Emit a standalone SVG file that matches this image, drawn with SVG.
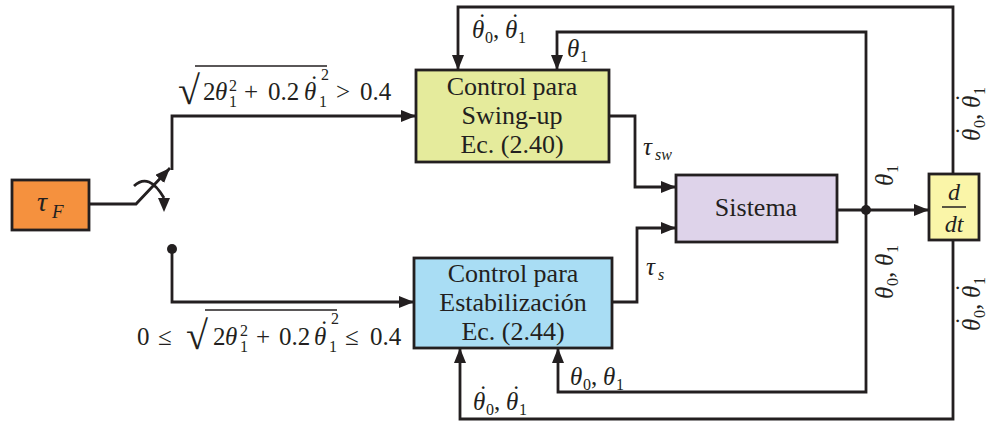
<svg xmlns="http://www.w3.org/2000/svg" width="987" height="421" viewBox="0 0 987 421">
<defs>
<marker id="arr" markerUnits="userSpaceOnUse" viewBox="0 0 15 12" refX="15" refY="6" markerWidth="15" markerHeight="12" orient="auto">
<path d="M0,0 L15,6 L0,12 z" fill="#231F20"/>
</marker>
</defs>
<style>
.box{stroke:#231F20;stroke-width:2.8}
.ln{fill:none;stroke:#231F20;stroke-width:2.8}
text{font-family:'Liberation Serif','DejaVu Serif',serif;fill:#231F20}
.lbl{font-size:26px;text-anchor:middle}
.m{font-size:25px}
.i{font-style:italic}
.s{font-size:16px}
.big{font-size:40px}
</style>
<rect width="987" height="421" fill="#ffffff"/>

<g id="connectors">
<path class="ln" d="M89,204 L136,204 L170,168" marker-end="url(#arr)"/>
<path class="ln" d="M172,170 L172,116 L416,116" marker-end="url(#arr)"/>
<circle cx="172" cy="249" r="5" fill="#231F20"/>
<path class="ln" d="M172,249 L172,302 L414,302" marker-end="url(#arr)"/>
<path class="ln" d="M134,186 Q149,172 164,198"/>
<polygon points="158,198 170,198 164,212" fill="#231F20"/>
<path class="ln" d="M609,116 L635,116 L635,187 L676,187" marker-end="url(#arr)"/>
<path class="ln" d="M612,302 L637,302 L637,228 L676,228" marker-end="url(#arr)"/>
<path class="ln" d="M837,210 L929,210" marker-end="url(#arr)"/>
<circle cx="866" cy="210" r="5" fill="#231F20"/>
<path class="ln" d="M866,210 L866,32 L557,32 L557,70" marker-end="url(#arr)"/>
<path class="ln" d="M953,174 L953,7 L458,7 L458,70" marker-end="url(#arr)"/>
<path class="ln" d="M866,210 L866,392 L558,392 L558,348" marker-end="url(#arr)"/>
<path class="ln" d="M953,240 L953,419 L460,419 L460,348" marker-end="url(#arr)"/>
</g>

<g id="tauF">
<rect class="box" x="12" y="180" width="77" height="50" fill="#F5913E"/>
<text class="m i" x="37" y="211" style="font-size:28px">τ</text>
<text class="s i" x="52" y="218" style="font-size:19px">F</text>
</g>

<g id="swingup">
<rect class="box" x="416" y="70" width="193" height="92" fill="#E5EB9C"/>
<text class="lbl" x="512" y="95">Control para</text>
<text class="lbl" x="512" y="124">Swing-up</text>
<text class="lbl" x="512" y="153">Ec. (2.40)</text>
</g>

<g id="estabilizacion">
<rect class="box" x="414" y="258" width="198" height="90" fill="#A9DDF4"/>
<text class="lbl" x="513" y="282">Control para</text>
<text class="lbl" x="513" y="311">Estabilización</text>
<text class="lbl" x="513" y="340">Ec. (2.44)</text>
</g>

<g id="sistema">
<rect class="box" x="676" y="175" width="161" height="67" fill="#DED3EA"/>
<text class="lbl" x="756" y="216">Sistema</text>
</g>

<g id="ddt">
<rect class="box" x="929" y="174" width="50" height="66" fill="#FAF5A8"/>
<text class="m i" x="954" y="200" text-anchor="middle" style="font-size:24px">d</text>
<line x1="942" y1="207" x2="966" y2="207" stroke="#231F20" stroke-width="1.5"/>
<text class="m i" x="954" y="232" text-anchor="middle" style="font-size:24px">dt</text>
</g>

<g id="labels">
<!-- top condition -->
<text class="big" x="178" y="104">√</text>
<line x1="195" y1="66" x2="327" y2="66" stroke="#231F20" stroke-width="1.5"/>
<text class="m" x="203" y="100">2</text>
<text class="m i" x="215" y="100">θ</text>
<text class="s" x="229" y="91">2</text>
<text class="s" x="229" y="107">1</text>
<text class="m" x="244" y="100">+</text>
<text class="m" x="268" y="100">0.2</text>
<text class="m i" x="304" y="100">θ</text>
<text class="m" x="310" y="93">˙</text>
<text class="s" x="321" y="80">2</text>
<text class="s" x="319" y="107">1</text>
<text class="m" x="336" y="100">&gt;</text>
<text class="m" x="360" y="100">0.4</text>

<!-- bottom condition -->
<text class="m" x="137" y="345">0</text>
<text class="m" x="158" y="345">≤</text>
<text class="big" x="186" y="349">√</text>
<line x1="205" y1="310" x2="337" y2="310" stroke="#231F20" stroke-width="1.5"/>
<text class="m" x="213" y="345">2</text>
<text class="m i" x="225" y="345">θ</text>
<text class="s" x="240" y="336">2</text>
<text class="s" x="240" y="352">1</text>
<text class="m" x="256" y="345">+</text>
<text class="m" x="279" y="345">0.2</text>
<text class="m i" x="314" y="345">θ</text>
<text class="m" x="320" y="338">˙</text>
<text class="s" x="331" y="324">2</text>
<text class="s" x="329" y="352">1</text>
<text class="m" x="345" y="345">≤</text>
<text class="m" x="370" y="345">0.4</text>

<!-- θ̇0, θ̇1 top -->
<g transform="translate(472,38)">
<text class="m i" x="0" y="0">θ</text><text class="m" x="6" y="-7">˙</text><text class="s" x="13" y="5">0</text>
<text class="m" x="21" y="0">,</text>
<text class="m i" x="33" y="0">θ</text><text class="m" x="39" y="-7">˙</text><text class="s" x="46" y="5">1</text>
</g>
<g transform="translate(567,57)">
<text class="m i" x="0" y="0">θ</text><text class="s" x="13" y="5">1</text>
</g>
<g transform="translate(643,155)">
<text class="m i" x="0" y="0">τ</text><text class="s i" x="12" y="5">sw</text>
</g>
<g transform="translate(646,275)">
<text class="m i" x="0" y="0">τ</text><text class="s i" x="12" y="5">s</text>
</g>
<g transform="translate(570,385)">
<text class="m i" x="0" y="0">θ</text><text class="s" x="13" y="5">0</text>
<text class="m" x="21" y="0">,</text>
<text class="m i" x="33" y="0">θ</text><text class="s" x="46" y="5">1</text>
</g>
<g transform="translate(473,410)">
<text class="m i" x="0" y="0">θ</text><text class="m" x="6" y="-7">˙</text><text class="s" x="13" y="5">0</text>
<text class="m" x="21" y="0">,</text>
<text class="m i" x="33" y="0">θ</text><text class="m" x="39" y="-7">˙</text><text class="s" x="46" y="5">1</text>
</g>

<!-- rotated labels -->
<g transform="translate(893,186) rotate(-90)">
<text class="m i" x="0" y="0">θ</text><text class="s" x="13" y="5">1</text>
</g>
<g transform="translate(893,299) rotate(-90)">
<text class="m i" x="0" y="0">θ</text><text class="s" x="13" y="5">0</text>
<text class="m" x="21" y="0">,</text>
<text class="m i" x="33" y="0">θ</text><text class="s" x="46" y="5">1</text>
</g>
<g transform="translate(980,141) rotate(-90)">
<text class="m i" x="0" y="0">θ</text><text class="m" x="6" y="-7">˙</text><text class="s" x="13" y="5">0</text>
<text class="m" x="21" y="0">,</text>
<text class="m i" x="33" y="0">θ</text><text class="m" x="39" y="-7">˙</text><text class="s" x="46" y="5">1</text>
</g>
<g transform="translate(980,331) rotate(-90)">
<text class="m i" x="0" y="0">θ</text><text class="m" x="6" y="-7">˙</text><text class="s" x="13" y="5">0</text>
<text class="m" x="21" y="0">,</text>
<text class="m i" x="33" y="0">θ</text><text class="m" x="39" y="-7">˙</text><text class="s" x="46" y="5">1</text>
</g>
</g>
</svg>
